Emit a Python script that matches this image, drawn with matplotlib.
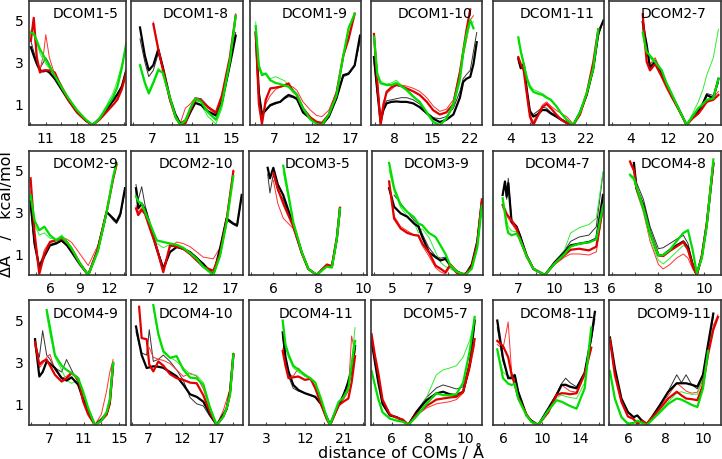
import numpy as np
import matplotlib
matplotlib.use("Agg")
import matplotlib.pyplot as plt
from matplotlib.ticker import AutoMinorLocator

nan = np.nan

# ---- row 1 ----
d15_x = [7.65, 8.3, 9.0, 9.7, 10.5, 11.0, 11.8, 13, 14.5, 16, 18, 20, 21.5, 23, 24.5, 26, 27, 28, 29]
d15_bk = [3.7, 3.3, 2.9, 2.6, 2.55, 2.6, 2.5, 2.2, 1.7, 1.2, 0.6, 0.2, 0.0, 0.3, 0.7, 1.15, 1.45, 1.8, 2.6]
d15_bk_thin = [4.0, 3.5, 3.0, 2.7, 3.0, 3.2, 2.9, 2.3, 1.8, 1.3, 0.65, 0.2, 0.0, 0.3, 0.75, 1.2, 1.5, 1.9, 2.4]
d15_rd = [4.0, 5.1, 3.2, 2.5, 2.6, 2.6, 2.6, 2.5, 1.8, 1.2, 0.6, 0.2, 0.0, 0.25, 0.6, 0.95, 1.2, 1.7, 2.5]
d15_rd_thin = [4.3, 4.8, 3.0, 2.6, 3.4, 4.3, 3.2, 2.4, 1.9, 1.3, 0.65, 0.2, 0.0, 0.3, 0.7, 1.1, 1.3, 1.9, 2.7]
d15_gn = [4.4, 4.35, 4.0, 3.6, 3.3, 3.1, 2.8, 2.35, 1.8, 1.3, 0.7, 0.25, 0.0, 0.3, 0.8, 1.3, 1.8, 2.7, 3.9]
d15_gn_thin = [4.5, 4.3, 3.9, 3.4, 3.1, 2.9, 2.7, 2.3, 1.7, 1.2, 0.6, 0.2, 0.0, 0.35, 0.9, 1.5, 2.1, 2.9, 3.8]

d18_x = [5.71, 6.2, 6.6, 7.06, 7.56, 8.0, 8.75, 9.3, 9.8, 10.3, 10.8, 11.3, 11.9, 12.6, 13.4, 14.0, 14.8, 15.4]
d18_bk = [4.64, 3.3, 2.6, 2.85, 3.6, 2.8, 1.27, 0.5, 0.05, 0.1, 0.6, 1.05, 0.95, 0.65, 0.45, 1.1, 2.84, 4.25]
d18_bk_thin = [4.1, 3.0, 2.3, 2.6, 3.4, 2.7, 1.3, 0.5, 0.1, 0.25, 0.8, 1.3, 1.25, 0.9, 0.55, 1.3, 3.0, 4.4]
d18_rd = [nan, nan, nan, 4.8, 3.6, 2.7, 1.2, 0.4, 0.0, 0.1, 0.7, 1.2, 1.15, 0.85, 0.6, 1.4, 3.2, 5.2]
d18_rd_thin = [nan, nan, nan, 4.9, 3.7, 2.6, 1.1, 0.35, 0.1, 0.8, 1.0, 1.3, 1.2, 0.8, 0.5, 1.2, 3.1, 5.3]
d18_gn = [2.84, 2.0, 1.5, 2.0, 2.6, 2.5, 1.3, 0.4, 0.0, 0.2, 0.8, 1.25, 1.1, 0.6, 0.25, 1.0, 3.0, 5.2]
d18_gn_thin = [2.9, 2.1, 1.6, 2.1, 2.7, 2.5, 1.2, 0.3, 0.0, 0.2, 0.7, 1.15, 0.95, 0.4, 0.05, 0.8, 2.8, 5.0]

d19_x = [4.58, 5.0, 5.4, 5.9, 6.5, 7.2, 7.8, 8.4, 8.9, 9.5, 10.0, 10.8, 11.8, 12.6, 13.3, 14.2, 15.2, 16.1, 16.8, 17.6, 18.3]
d19_bk = [4.4, 1.5, 0.5, 0.7, 0.95, 1.05, 1.1, 1.3, 1.43, 1.35, 1.25, 0.6, 0.3, 0.1, 0.0, 0.4, 1.27, 2.37, 2.45, 2.84, 4.25]
d19_bk_thin = [4.4, 1.6, 0.6, 0.75, 0.9, 1.0, 1.1, 1.25, 1.35, 1.3, 1.2, 0.65, 0.35, 0.15, 0.05, 0.4, 1.3, 2.3, 2.4, 2.8, 4.0]
d19_rd = [4.4, 1.0, 0.05, 1.2, 1.74, 1.78, 1.82, 1.9, 1.98, 1.6, 1.43, 0.8, 0.35, 0.15, 0.1, 0.5, 1.5, 3.3, 4.1, 5.3, nan]
d19_rd_thin = [4.3, 1.2, 0.2, 1.0, 1.4, 1.7, 1.8, 1.85, 1.9, 1.8, 1.65, 1.1, 0.7, 0.45, 0.4, 0.7, 1.6, 3.2, 4.2, 5.3, nan]
d19_gn = [4.7, 2.8, 2.37, 2.45, 2.13, 2.0, 1.95, 1.88, 1.82, 1.6, 1.43, 0.8, 0.25, 0.05, 0.0, 0.5, 1.4, 3.3, 4.6, 5.3, nan]
d19_gn_thin = [4.9, 2.9, 2.5, 2.4, 2.2, 2.3, 2.2, 2.1, 1.9, 1.7, 1.5, 0.8, 0.3, 0.1, 0.0, 0.45, 1.35, 3.2, 4.7, 5.2, nan]

d110_x = [4.28, 4.9, 5.5, 6.0, 6.6, 7.5, 8.4, 9.3, 10.3, 11.5, 12.7, 14.0, 15.2, 16.4, 17.6, 18.9, 20.1, 20.7, 21.3, 22.0, 22.6, 23.2]
d110_bk = [3.23, 1.6, 0.15, 0.7, 1.03, 1.1, 1.12, 1.1, 1.1, 1.03, 0.85, 0.56, 0.3, 0.14, 0.25, 0.5, 1.3, 2.05, 2.2, 2.29, 2.9, 3.94]
d110_bk_thin = [3.0, 1.5, 0.2, 0.8, 1.15, 1.2, 1.25, 1.3, 1.3, 1.2, 1.0, 0.6, 0.35, 0.3, 0.4, 0.8, 1.6, 2.2, 2.4, 2.6, 3.5, 4.4]
d110_rd = [4.33, 2.0, 0.0, 0.9, 1.58, 1.8, 1.9, 1.85, 1.74, 1.6, 1.43, 1.1, 0.7, 0.5, 0.6, 1.0, 2.5, 3.5, 4.5, 5.5, nan, nan]
d110_rd_thin = [4.0, 2.2, 0.3, 1.1, 1.5, 1.7, 1.9, 1.9, 1.85, 1.75, 1.6, 1.3, 0.9, 0.65, 0.75, 1.2, 2.6, 3.3, 4.0, 5.0, 5.2, nan]
d110_gn = [4.2, 2.4, 1.98, 1.95, 1.9, 1.9, 2.0, 1.85, 1.66, 1.35, 1.1, 0.6, 0.15, 0.0, 0.3, 1.0, 2.2, 3.47, 4.3, 5.0, 4.6, nan]
d110_gn_thin = [4.3, 2.5, 2.1, 2.0, 1.95, 2.0, 2.13, 1.9, 1.7, 1.4, 1.1, 0.55, 0.1, 0.0, 0.25, 0.9, 2.0, 3.2, 4.1, 4.9, 4.9, nan]

d111_x = [5.71, 6.3, 7.0, 7.8, 8.5, 9.3, 10.3, 11.5, 12.5, 13.5, 14.8, 16.0, 17.3, 18.9, 20.5, 22.1, 23.7, 24.9, 26.1]
d111_bk = [3.15, 2.7, 2.9, 1.6, 0.64, 0.4, 0.5, 0.72, 0.7, 0.55, 0.4, 0.25, 0.1, 0.0, 0.6, 1.43, 2.7, 4.4, 4.96]
d111_bk_thin = [3.2, 2.8, 2.8, 1.6, 0.7, 0.5, 0.65, 0.85, 0.8, 0.6, 0.45, 0.3, 0.15, 0.0, 0.6, 1.4, 2.6, 4.2, 5.0]
d111_rd = [3.23, 2.9, 2.6, 1.4, 0.4, 0.0, 0.4, 0.85, 1.0, 0.8, 0.5, 0.25, 0.1, 0.0, 0.5, 1.5, 3.0, 4.56, nan]
d111_rd_thin = [3.0, 2.8, 2.7, 1.5, 0.5, 0.15, 0.5, 0.95, 1.1, 0.9, 0.7, 0.55, 0.4, 0.05, 0.5, 1.4, 2.8, 4.4, nan]
d111_gn = [4.17, 3.5, 2.9, 2.2, 1.8, 1.58, 1.5, 1.43, 1.3, 1.2, 0.9, 0.56, 0.25, 0.0, 0.6, 1.5, 2.7, 4.56, nan]
d111_gn_thin = [4.0, 3.6, 3.0, 2.3, 1.9, 1.7, 1.6, 1.5, 1.35, 1.2, 0.9, 0.55, 0.25, 0.0, 0.55, 1.4, 2.6, 4.4, nan]

d27_x = [6.65, 7.0, 7.5, 8.2, 9.3, 10.7, 11.75, 12.8, 13.9, 15.0, 16.0, 17.2, 18.5, 19.5, 20.3, 21.7, 22.8]
d27_bk = [4.9, 4.4, 3.8, 2.7, 3.0, 2.45, 1.9, 1.4, 0.95, 0.45, 0.0, 0.35, 0.64, 1.0, 1.43, 1.27, 2.2]
d27_bk_thin = [4.6, 4.2, 3.7, 2.8, 3.1, 2.6, 2.0, 1.5, 1.0, 0.5, 0.0, 0.35, 0.7, 1.1, 1.5, 1.4, 2.0]
d27_rd = [5.27, 4.2, 3.0, 2.6, 2.9, 2.3, 1.8, 1.35, 0.9, 0.45, 0.0, 0.3, 0.55, 0.85, 1.1, 1.2, 1.43]
d27_rd_thin = [5.1, 4.7, 3.6, 2.9, 3.2, 2.5, 1.9, 1.4, 0.95, 0.5, 0.0, 0.3, 0.5, 0.8, 1.1, 1.3, 1.6]
d27_gn = [4.4, 4.0, 3.47, 3.3, 3.0, 2.6, 1.98, 1.5, 0.96, 0.45, 0.0, 0.4, 0.8, 1.0, 1.2, 1.27, 2.2]
d27_gn_thin = [4.5, 4.1, 3.5, 3.2, 2.9, 2.5, 1.9, 1.45, 0.9, 0.4, 0.0, 0.5, 1.1, 1.7, 2.37, 3.2, 4.56]

# ---- row 2 ----
d29_x = [4.0, 4.4, 4.88, 5.4, 5.97, 6.6, 7.15, 7.7, 8.16, 9.0, 9.84, 10.8, 11.7, 12.37, 12.7, 13.1, 13.56]
d29_bk = [3.5, 1.5, 0.37, 0.9, 1.41, 1.5, 1.65, 1.4, 1.09, 0.5, 0.0, 1.2, 3.0, 2.69, 2.53, 2.93, 4.13]
d29_bk_thin = [3.2, 1.4, 0.5, 1.0, 1.45, 1.55, 1.6, 1.4, 1.1, 0.55, 0.05, 1.2, 3.0, 2.6, 2.45, 2.8, 4.0]
d29_rd = [4.6, 2.0, 0.05, 1.0, 1.57, 1.65, 1.73, 1.55, 1.25, 0.55, 0.0, 1.2, 3.0, 4.6, 5.25, nan, nan]
d29_rd_thin = [4.0, 2.0, 0.3, 1.2, 1.6, 1.7, 1.8, 1.7, 1.55, 1.0, 0.45, 1.4, 3.1, 4.5, 5.2, nan, nan]
d29_gn = [3.8, 2.6, 2.13, 2.3, 1.89, 1.65, 1.81, 1.55, 1.25, 0.55, 0.0, 1.1, 3.0, 4.7, 5.33, nan, nan]
d29_gn_thin = [3.7, 2.4, 1.9, 2.0, 1.75, 1.7, 1.9, 1.6, 1.3, 0.6, 0.05, 1.15, 3.0, 4.6, 5.3, nan, nan]

d210_x = [5.27, 5.55, 5.98, 6.4, 7.0, 7.83, 8.65, 9.48, 10.31, 11.1, 11.96, 12.8, 13.6, 14.85, 15.68, 16.5, 17.33, 17.8, 18.37]
d210_bk = [4.13, 3.17, 3.4, 3.1, 2.37, 1.25, 0.29, 1.09, 1.33, 1.25, 1.09, 0.8, 0.53, 0.0, 1.25, 2.69, 2.45, 2.37, 3.81]
d210_bk_thin = [4.3, 3.6, 4.2, 3.3, 2.5, 1.3, 0.4, 1.1, 1.35, 1.25, 1.1, 0.85, 0.5, 0.0, 1.2, 2.6, 2.4, 2.3, 3.7]
d210_rd = [3.17, 2.85, 3.1, 2.9, 2.2, 1.3, 0.13, 1.41, 1.35, 1.25, 1.0, 0.69, 0.4, 0.2, 1.0, 2.6, 4.93, nan, nan]
d210_rd_thin = [3.3, 3.0, 3.2, 2.9, 2.3, 1.4, 0.3, 1.3, 1.57, 1.5, 1.35, 1.1, 0.85, 0.77, 1.3, 2.8, 5.0, nan, nan]
d210_gn = [3.73, 3.5, 3.4, 3.0, 2.45, 1.65, 1.57, 1.5, 1.44, 1.3, 1.05, 0.77, 0.4, 0.0, 0.9, 2.5, 4.7, nan, nan]
d210_gn_thin = [3.8, 3.5, 3.3, 2.9, 2.3, 1.5, 1.3, 1.45, 1.4, 1.25, 1.0, 0.7, 0.35, 0.0, 0.95, 2.6, 4.8, nan, nan]

d35_x = [5.75, 5.85, 6.0, 6.2, 6.44, 6.89, 7.26, 7.55, 7.93, 8.2, 8.38, 8.6, 8.82, 8.96]
d35_bk = [5.1, 4.6, 5.1, 4.3, 3.8, 2.37, 1.09, 0.29, 0.0, 0.3, 0.45, 0.4, 1.73, 3.17]
d35_bk_thin = [4.8, 3.9, 4.8, 4.0, 3.6, 2.3, 1.05, 0.3, 0.0, 0.3, 0.45, 0.4, 1.73, 3.17]
d35_rd = [nan, nan, 4.86, 4.1, 3.4, 2.3, 1.05, 0.3, 0.0, 0.3, 0.5, 0.42, 1.75, 3.2]
d35_rd_thin = [nan, nan, 4.5, 3.4, 2.7, 2.2, 1.0, 0.28, 0.0, 0.3, 0.5, 0.45, 1.75, 3.2]
d35_gn = [nan, nan, nan, nan, 5.2, 2.5, 1.1, 0.3, 0.0, 0.25, 0.4, 0.35, 1.7, 3.15]
d35_gn_thin = [nan, nan, nan, nan, 4.9, 2.45, 1.1, 0.3, 0.0, 0.25, 0.4, 0.35, 1.7, 3.15]

d39_x = [4.81, 5.08, 5.44, 5.8, 6.16, 6.4, 6.61, 6.97, 7.33, 7.6, 7.87, 8.14, 8.5, 8.95, 9.3, 9.6, 9.85]
d39_bk = [4.13, 3.25, 2.93, 2.77, 2.45, 2.3, 1.81, 1.09, 0.85, 0.69, 0.77, 0.45, 0.15, 0.0, 0.5, 1.6, 3.5]
d39_bk_thin = [nan, 3.8, 3.4, 3.0, 2.6, 2.4, 1.95, 1.3, 0.9, 0.8, 0.85, 0.5, 0.2, 0.0, 0.45, 1.5, 3.4]
d39_rd = [4.45, 2.69, 2.21, 2.0, 1.9, 1.88, 1.5, 1.09, 0.45, 0.3, 0.13, 0.5, 0.1, 0.0, 0.4, 1.5, 3.6]
d39_rd_thin = [4.3, 2.8, 2.3, 2.1, 1.9, 1.85, 1.4, 0.9, 0.35, 0.15, 0.05, 0.4, 0.05, 0.1, 0.4, 1.6, 3.6]
d39_gn = [5.33, 4.13, 3.33, 3.0, 2.75, 2.45, 2.37, 2.0, 1.81, 1.41, 1.0, 0.45, 0.15, 0.0, 0.3, 1.3, 3.3]
d39_gn_thin = [5.0, 4.0, 3.2, 2.8, 2.5, 2.0, 2.2, 1.8, 1.1, 0.6, 0.4, 0.3, 0.1, 0.0, 0.35, 1.4, 3.4]

d47_x = [5.74, 5.93, 6.07, 6.2, 6.47, 6.88, 7.15, 7.7, 8.25, 9.2, 10.0, 10.8, 11.3, 12.0, 12.8, 13.4, 13.95]
d47_bk = [3.81, 4.45, 3.73, 4.37, 2.53, 2.29, 1.89, 0.93, 0.29, 0.0, 0.61, 1.09, 1.41, 1.49, 1.57, 1.73, 3.81]
d47_bk_thin = [3.9, 4.2, 3.6, 4.6, 2.6, 2.35, 1.95, 0.95, 0.3, 0.0, 0.6, 1.15, 1.6, 1.81, 1.9, 2.3, 4.86]
d47_rd = [3.33, 3.1, 2.9, 2.8, 2.6, 2.21, 1.73, 0.9, 0.3, 0.0, 0.55, 0.95, 1.2, 1.25, 1.17, 1.35, 3.25]
d47_rd_thin = [3.2, 3.0, 2.8, 2.7, 2.45, 2.1, 1.6, 0.85, 0.28, 0.0, 0.5, 0.85, 1.0, 1.0, 0.95, 1.1, 3.1]
d47_gn = [3.65, 2.9, 2.3, 2.0, 1.89, 1.97, 1.7, 0.9, 0.3, 0.0, 0.55, 1.0, 1.35, 1.49, 1.55, 1.7, 3.3]
d47_gn_thin = [3.6, 3.0, 2.6, 2.3, 2.1, 2.05, 1.8, 0.95, 0.3, 0.0, 0.6, 1.2, 2.0, 2.25, 2.4, 2.7, 4.93]

d48_x = [6.79, 6.96, 7.07, 7.37, 7.66, 8.02, 8.23, 8.52, 8.8, 9.1, 9.3, 9.5, 9.68, 9.9, 10.11, 10.4]
d48_bk = [nan, 5.33, 4.13, 3.33, 2.05, 0.95, 0.95, 1.2, 1.4, 1.6, 1.3, 0.5, 0.0, 0.9, 2.4, 5.3]
d48_bk_thin = [nan, 5.2, 4.4, 3.6, 2.3, 1.25, 1.3, 1.5, 1.7, 1.89, 1.5, 0.6, 0.0, 0.9, 2.4, 5.3]
d48_rd = [5.4, 5.0, 4.13, 3.2, 2.0, 0.93, 0.9, 1.15, 1.35, 1.57, 1.2, 0.45, 0.0, 0.9, 2.4, 5.3]
d48_rd_thin = [5.3, 4.9, 4.0, 3.0, 1.6, 0.5, 0.29, 0.5, 0.8, 1.0, 0.8, 0.3, 0.0, 0.9, 2.4, 5.3]
d48_gn = [4.77, 4.6, 4.2, 3.2, 2.0, 0.93, 0.95, 1.2, 1.6, 2.0, 2.13, 1.2, 0.1, 0.8, 2.3, 5.5]
d48_gn_thin = [4.7, 4.5, 4.0, 3.0, 1.7, 0.7, 0.53, 0.8, 1.1, 1.41, 1.3, 0.6, 0.0, 0.85, 2.35, 5.4]

# ---- row 3 ----
d49_x = [5.43, 5.92, 6.3, 6.76, 7.14, 7.7, 8.47, 9.03, 9.6, 10.36, 10.93, 11.5, 12.26, 13.0, 13.6, 13.97, 14.35]
d49_bk = [4.05, 2.29, 2.5, 3.0, 2.9, 2.69, 2.21, 2.1, 2.25, 1.9, 1.2, 0.7, 0.0, 0.25, 0.5, 1.09, 2.85]
d49_bk_thin = [3.8, 3.2, 4.45, 3.3, 3.1, 2.7, 2.5, 3.09, 2.6, 2.0, 1.3, 0.8, 0.0, 0.3, 0.6, 1.1, 2.8]
d49_rd = [3.9, 2.85, 3.0, 3.09, 2.8, 2.37, 2.05, 2.2, 2.45, 2.2, 1.1, 0.5, 0.0, 0.2, 0.5, 1.0, 2.93]
d49_rd_thin = [3.7, 2.7, 2.9, 3.2, 3.33, 2.6, 2.2, 2.3, 2.5, 2.1, 1.3, 0.6, 0.0, 0.5, 1.6, 2.5, 3.09]
d49_gn = [nan, nan, nan, 5.42, 4.6, 3.3, 2.8, 2.6, 2.45, 2.21, 1.57, 0.8, 0.0, 0.2, 0.6, 1.2, 2.93]
d49_gn_thin = [nan, nan, nan, 5.2, 4.3, 3.2, 2.6, 2.1, 1.97, 2.1, 1.5, 0.7, 0.0, 0.25, 0.6, 1.1, 2.8]

d410_x = [5.14, 5.6, 5.98, 6.72, 7.1, 7.7, 8.44, 9.18, 10.17, 11.15, 12.14, 13.13, 14.11, 15.1, 16.08, 17.07, 18.06, 18.55, 19.04, 19.54]
d410_bk = [4.65, 3.9, 3.3, 2.69, 2.72, 2.77, 2.75, 2.7, 2.5, 2.3, 1.9, 1.45, 1.33, 1.1, 0.5, 0.0, 0.5, 0.77, 1.57, 3.33]
d410_bk_thin = [4.4, 3.8, 3.4, 3.3, 4.5, 3.0, 3.1, 3.3, 3.0, 2.6, 2.1, 1.3, 1.0, 0.9, 0.4, 0.0, 0.4, 0.7, 1.4, 3.1]
d410_rd = [nan, 5.58, 4.1, 4.05, 2.85, 2.53, 3.0, 2.8, 2.4, 2.21, 2.13, 2.0, 1.97, 1.4, 0.6, 0.0, 0.4, 0.8, 1.5, 3.33]
d410_rd_thin = [nan, nan, nan, nan, 3.65, 3.2, 3.1, 3.05, 2.9, 2.6, 2.29, 2.45, 2.3, 1.7, 0.8, 0.0, 0.7, 1.2, 1.7, 3.2]
d410_gn = [nan, nan, nan, nan, nan, 5.66, 4.3, 3.49, 3.17, 3.25, 2.61, 2.24, 2.2, 1.89, 0.8, 0.0, 0.4, 0.8, 1.4, 3.33]
d410_gn_thin = [nan, nan, nan, nan, nan, 5.5, 4.2, 3.4, 3.2, 3.0, 2.7, 2.4, 2.35, 2.0, 0.9, 0.0, 0.45, 0.85, 1.5, 3.4]

d411_x = [6.86, 7.5, 8.2, 9.3, 10.5, 12.0, 13.3, 14.4, 15.7, 17.0, 17.81, 18.8, 19.8, 20.9, 22.05, 22.8, 23.6]
d411_bk = [4.37, 3.2, 2.53, 1.89, 1.65, 1.5, 1.41, 1.33, 1.0, 0.4, 0.0, 0.5, 0.93, 1.41, 2.0, 2.53, 3.73]
d411_bk_thin = [4.2, 3.0, 2.3, 1.73, 1.6, 1.5, 1.4, 1.3, 0.95, 0.4, 0.0, 0.5, 0.95, 1.35, 2.2, 2.7, 3.6]
d411_rd = [3.49, 2.8, 2.21, 2.25, 2.29, 2.13, 2.18, 1.73, 1.0, 0.3, 0.0, 0.45, 0.93, 1.1, 1.25, 2.0, 3.25]
d411_rd_thin = [3.6, 3.0, 2.4, 2.3, 2.69, 2.3, 2.2, 1.8, 1.0, 0.3, 0.0, 0.4, 0.9, 1.2, 1.6, 4.2, 3.4]
d411_gn = [4.93, 3.8, 3.33, 2.8, 2.61, 2.37, 2.2, 2.0, 1.25, 0.4, 0.0, 0.55, 1.09, 1.3, 1.73, 2.8, 3.97]
d411_gn_thin = [4.7, 3.7, 3.2, 2.7, 2.5, 2.3, 2.2, 2.0, 1.2, 0.4, 0.0, 0.5, 1.0, 1.3, 1.8, 3.0, 4.6]

d57_x = [4.9, 5.08, 5.26, 5.5, 5.9, 6.26, 6.62, 6.9, 7.35, 7.9, 8.44, 8.8, 9.17, 9.53, 9.9, 10.26, 10.53]
d57_bk = [3.97, 3.0, 2.05, 1.0, 0.45, 0.37, 0.21, 0.0, 0.61, 1.17, 1.49, 1.57, 1.45, 1.41, 1.57, 2.85, 4.93]
d57_bk_thin = [4.1, 3.1, 2.1, 1.0, 0.45, 0.4, 0.2, 0.0, 0.65, 1.3, 1.75, 1.89, 1.8, 1.7, 1.8, 3.0, 4.8]
d57_rd = [4.29, 3.3, 2.5, 1.2, 0.5, 0.35, 0.25, 0.0, 0.5, 0.9, 1.2, 1.25, 1.3, 1.33, 1.57, 2.85, 4.05]
d57_rd_thin = [4.2, 3.3, 2.4, 1.1, 0.5, 0.35, 0.25, 0.0, 0.45, 0.8, 1.0, 1.05, 1.1, 1.2, 1.5, 2.6, 3.8]
d57_gn = [2.53, 1.9, 1.25, 0.6, 0.3, 0.21, 0.15, 0.0, 0.4, 1.0, 1.5, 1.41, 1.4, 1.45, 2.0, 3.5, 5.1]
d57_gn_thin = [2.6, 1.9, 1.3, 0.6, 0.3, 0.2, 0.15, 0.0, 0.5, 1.3, 2.37, 2.6, 2.69, 2.8, 3.2, 4.0, 4.9]

d811_x = [5.3, 5.9, 6.45, 6.81, 7.15, 7.5, 8.38, 8.9, 9.62, 10.67, 11.55, 12.07, 12.5, 12.95, 13.65, 14.5, 15.2, 15.58]
d811_bk = [4.93, 3.17, 2.21, 2.21, 2.34, 1.57, 0.45, 0.2, 0.0, 0.77, 1.41, 1.89, 1.9, 1.81, 1.73, 2.45, 4.13, 5.34]
d811_bk_thin = [4.6, 3.0, 2.3, 2.3, 2.4, 1.6, 0.5, 0.2, 0.0, 0.8, 1.5, 1.95, 2.21, 2.0, 1.8, 2.5, 4.0, 5.0]
d811_rd = [3.97, 3.73, 3.2, 2.37, 1.9, 1.3, 0.5, 0.15, 0.0, 0.6, 1.41, 1.5, 1.49, 1.45, 1.5, 2.4, 3.65, nan]
d811_rd_thin = [3.8, 3.6, 4.86, 2.5, 2.0, 1.4, 0.5, 0.15, 0.0, 0.65, 1.5, 1.89, 1.75, 1.6, 1.55, 2.4, 3.6, nan]
d811_gn = [3.57, 2.21, 1.95, 1.89, 1.95, 1.25, 0.45, 0.15, 0.0, 0.69, 1.17, 1.1, 1.0, 0.9, 0.77, 1.73, 4.6, nan]
d811_gn_thin = [3.4, 2.5, 2.3, 2.25, 2.3, 1.5, 0.5, 0.15, 0.0, 0.7, 1.3, 1.41, 1.35, 1.3, 1.25, 2.0, 4.3, nan]

d911_x = [5.04, 5.3, 5.65, 6.0, 6.3, 6.5, 6.75, 7.0, 7.7, 8.15, 8.6, 8.85, 9.1, 9.4, 9.7, 10.0, 10.27, 10.55, 10.8]
d911_bk = [4.13, 2.69, 1.25, 0.61, 0.37, 0.45, 0.2, 0.0, 0.93, 1.57, 1.97, 1.97, 1.97, 1.9, 1.81, 2.37, 3.81, 5.26, nan]
d911_bk_thin = [4.0, 2.6, 1.2, 0.6, 0.35, 0.45, 0.2, 0.0, 0.95, 1.6, 2.37, 2.0, 2.37, 1.9, 1.7, 2.2, 3.7, 5.1, nan]
d911_rd = [4.05, 2.37, 1.1, 0.4, 0.29, 0.05, 0.2, 0.05, 0.77, 1.25, 1.57, 1.4, 1.25, 1.22, 1.17, 1.89, 3.33, 4.5, 5.1]
d911_rd_thin = [4.0, 2.4, 1.1, 0.4, 0.25, 0.1, 0.25, 0.1, 0.85, 1.4, 1.97, 1.8, 1.6, 1.5, 1.55, 2.1, 3.4, 4.7, 5.2]
d911_gn = [2.53, 1.25, 0.37, 0.05, 0.1, 0.2, 0.1, 0.0, 0.6, 1.0, 1.25, 1.2, 1.09, 0.95, 0.85, 1.73, 3.5, nan, nan]
d911_gn_thin = [2.6, 1.3, 0.4, 0.1, 0.1, 0.2, 0.1, 0.0, 0.65, 1.1, 1.5, 1.57, 1.5, 1.45, 1.45, 2.3, 3.7, 4.6, nan]

names = ["DCOM1-5", "DCOM1-8", "DCOM1-9", "DCOM1-10", "DCOM1-11", "DCOM2-7",
         "DCOM2-9", "DCOM2-10", "DCOM3-5", "DCOM3-9", "DCOM4-7", "DCOM4-8",
         "DCOM4-9", "DCOM4-10", "DCOM4-11", "DCOM5-7", "DCOM8-11", "DCOM9-11"]

xticks = [[11, 18, 25], [7, 11, 15], [7, 12, 17], [8, 15, 22], [4, 13, 22], [4, 12, 20],
          [6, 9, 12], [7, 12, 17], [6, 8, 10], [5, 7, 9], [7, 10, 13], [6, 8, 10],
          [7, 11, 15], [7, 12, 17], [3, 12, 21], [6, 8, 10], [6, 10, 14], [6, 8, 10]]

xlims = [(7.24, 28.94), (4.8, 16.14), (3.83, 18.43), (3.73, 24.17), (-0.36, 26.26), (-0.54, 23.34),
         (3.84, 13.66), (4.65, 18.53), (4.92, 10.16), (3.88, 9.91), (4.95, 14.03), (5.88, 10.73),
         (4.74, 15.82), (4.4, 20.96), (-0.94, 25.9), (4.87, 10.93), (4.85, 16.54), (4.99, 10.96)]

curves = [
    (d15_x, d15_bk, d15_bk_thin, d15_rd, d15_rd_thin, d15_gn, d15_gn_thin),
    (d18_x, d18_bk, d18_bk_thin, d18_rd, d18_rd_thin, d18_gn, d18_gn_thin),
    (d19_x, d19_bk, d19_bk_thin, d19_rd, d19_rd_thin, d19_gn, d19_gn_thin),
    (d110_x, d110_bk, d110_bk_thin, d110_rd, d110_rd_thin, d110_gn, d110_gn_thin),
    (d111_x, d111_bk, d111_bk_thin, d111_rd, d111_rd_thin, d111_gn, d111_gn_thin),
    (d27_x, d27_bk, d27_bk_thin, d27_rd, d27_rd_thin, d27_gn, d27_gn_thin),
    (d29_x, d29_bk, d29_bk_thin, d29_rd, d29_rd_thin, d29_gn, d29_gn_thin),
    (d210_x, d210_bk, d210_bk_thin, d210_rd, d210_rd_thin, d210_gn, d210_gn_thin),
    (d35_x, d35_bk, d35_bk_thin, d35_rd, d35_rd_thin, d35_gn, d35_gn_thin),
    (d39_x, d39_bk, d39_bk_thin, d39_rd, d39_rd_thin, d39_gn, d39_gn_thin),
    (d47_x, d47_bk, d47_bk_thin, d47_rd, d47_rd_thin, d47_gn, d47_gn_thin),
    (d48_x, d48_bk, d48_bk_thin, d48_rd, d48_rd_thin, d48_gn, d48_gn_thin),
    (d49_x, d49_bk, d49_bk_thin, d49_rd, d49_rd_thin, d49_gn, d49_gn_thin),
    (d410_x, d410_bk, d410_bk_thin, d410_rd, d410_rd_thin, d410_gn, d410_gn_thin),
    (d411_x, d411_bk, d411_bk_thin, d411_rd, d411_rd_thin, d411_gn, d411_gn_thin),
    (d57_x, d57_bk, d57_bk_thin, d57_rd, d57_rd_thin, d57_gn, d57_gn_thin),
    (d811_x, d811_bk, d811_bk_thin, d811_rd, d811_rd_thin, d811_gn, d811_gn_thin),
    (d911_x, d911_bk, d911_bk_thin, d911_rd, d911_rd_thin, d911_gn, d911_gn_thin),
]

# panel boxes in pixels: (left, right, top, bottom)
W, H = 722, 460
row_y = [(2, 126), (152, 276), (301, 426)]
col_x = [[(29, 126), (131, 243), (250, 361), (371, 482), (493, 604), (609, 721)],
         [(29, 126), (131, 243), (249, 367), (372, 483), (493, 604), (609, 721)],
         [(29, 126), (131, 243), (249, 365), (371, 482), (493, 604), (609, 721)]]

fig = plt.figure(figsize=(W / 100, H / 100), dpi=100)

for i in range(18):
    r, c = divmod(i, 6)
    l, rr = col_x[r][c]
    t, b = row_y[r]
    ax = fig.add_axes([l / W, 1 - b / H, (rr - l) / W, (b - t) / H])
    x, bk, bk_t, rd, rd_t, gn, gn_t = curves[i]
    ax.plot(x, bk_t, color="#333333", lw=0.7)
    ax.plot(x, rd_t, color="#ff3030", lw=0.7)
    ax.plot(x, gn_t, color="#30ee30", lw=0.7)
    ax.plot(x, bk, color="black", lw=1.6)
    ax.plot(x, rd, color="#e00000", lw=1.6)
    ax.plot(x, gn, color="#00dd00", lw=1.6)
    ax.set_xlim(*xlims[i])
    ax.set_ylim(0, 5.9)
    ax.set_xticks(xticks[i])
    ax.xaxis.set_minor_locator(AutoMinorLocator(2))
    ax.tick_params(axis="x", which="both", direction="in", length=2, width=0.8,
                   color="#444444", labelsize=10, pad=4)
    if c == 0:
        ax.set_yticks([1, 3, 5])
        ax.tick_params(axis="y", length=0, labelsize=10, pad=4)
    else:
        ax.set_yticks([])
    for s in ax.spines.values():
        s.set_color("#333333")
        s.set_linewidth(1.2)
    ax.text(0.58, 0.867, names[i], transform=ax.transAxes, ha="center",
            va="baseline", fontsize=10)

fig.text(401 / W, 1 - 458 / H, "distance of COMs / Å", ha="center", va="baseline",
         fontsize=11.5)
fig.text(7 / W, 1 - 214 / H, "ΔA   /   kcal/mol", rotation=90, ha="center",
         va="center", fontsize=11.5)

fig.savefig("out.png", dpi=100)
